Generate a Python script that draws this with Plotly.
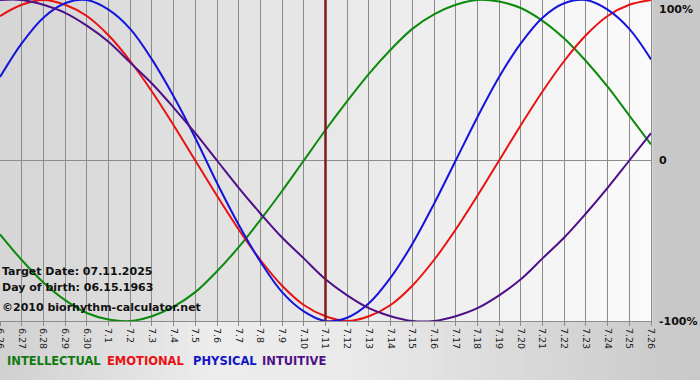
import plotly.graph_objects as go

dates = ["6.26", "6.27", "6.28", "6.29", "6.30", "7.1", "7.2", "7.3", "7.4", "7.5",
         "7.6", "7.7", "7.8", "7.9", "7.10", "7.11", "7.12", "7.13", "7.14", "7.15",
         "7.16", "7.17", "7.18", "7.19", "7.20", "7.21", "7.22", "7.23", "7.24", "7.25", "7.26"]

intellectual = [-0.46, -0.62, -0.76, -0.87, -0.95, -0.99, -1.00, -0.97, -0.91, -0.82,
                -0.69, -0.54, -0.37, -0.19, 0.00, 0.19, 0.37, 0.54, 0.69, 0.82,
                0.91, 0.97, 1.00, 0.99, 0.95, 0.87, 0.76, 0.62, 0.46, 0.28, 0.10]
emotional = [0.90, 0.97, 1.00, 0.97, 0.90, 0.78, 0.62, 0.43, 0.22, 0.00,
             -0.22, -0.43, -0.62, -0.78, -0.90, -0.97, -1.00, -0.97, -0.90, -0.78,
             -0.62, -0.43, -0.22, 0.00, 0.22, 0.43, 0.62, 0.78, 0.90, 0.97, 1.00]
physical = [0.52, 0.73, 0.89, 0.98, 1.00, 0.94, 0.82, 0.63, 0.40, 0.14,
            -0.14, -0.40, -0.63, -0.82, -0.94, -1.00, -0.98, -0.89, -0.73, -0.52,
            -0.27, 0.00, 0.27, 0.52, 0.73, 0.89, 0.98, 1.00, 0.94, 0.82, 0.63]
intuitive = [1.00, 1.00, 0.97, 0.92, 0.84, 0.74, 0.61, 0.48, 0.33, 0.17,
             0.00, -0.17, -0.33, -0.48, -0.61, -0.74, -0.84, -0.92, -0.97, -1.00,
             -1.00, -0.97, -0.92, -0.84, -0.74, -0.61, -0.48, -0.33, -0.17, 0.00, 0.17]

target_date = "7.11"
series_names = ["INTELLECTUAL", "EMOTIONAL", "PHYSICAL", "INTUITIVE"]
series_colors = ["#0c8a0c", "#e81212", "#1414dc", "#4e1088"]
legend_colors = ["#117a11", "#e81212", "#1414c8", "#4e1088"]
y_labels = ["100%", "0", "-100%"]
y_values = [1, 0, -1]
info_lines = ["Target Date: 07.11.2025", "Day of birth: 06.15.1963", "\u00a92010 biorhythm-calculator.net"]

fig = go.Figure()
for name, vals, col in zip(series_names, [intellectual, emotional, physical, intuitive], series_colors):
    fig.add_trace(go.Scatter(x=dates, y=vals, mode="lines", name=name,
                             line=dict(color=col, width=2, shape="spline", smoothing=1.0),
                             showlegend=False, cliponaxis=False, hoverinfo="skip"))

def lerp(c1, c2, t):
    return tuple(round(a + (b - a) * t) for a, b in zip(c1, c2))

shapes = []
# plot area gradient
n = 50
for i in range(n):
    t = i / (n - 1)
    c = lerp((214, 214, 214), (250, 250, 250), t)
    shapes.append(dict(type="rect", xref="paper", yref="paper", x0=i / n, x1=(i + 1) / n + 0.002,
                       y0=0, y1=1, fillcolor="rgb(%d,%d,%d)" % c, line=dict(width=0), layer="below"))
# bottom outer gradient
stops = [(0.0, (208, 208, 208)), (0.3, (236, 236, 236)), (0.5, (234, 234, 234)), (1.0, (200, 200, 200))]
m = 60
for i in range(m):
    t = (i + 0.5) / m
    for (a, ca), (b, cb) in zip(stops[:-1], stops[1:]):
        if a <= t <= b:
            c = lerp(ca, cb, (t - a) / (b - a))
    x0 = i / m * (700 / 651)
    x1 = (i + 1) / m * (700 / 651) + 0.002
    shapes.append(dict(type="rect", xref="paper", yref="paper", x0=x0, x1=x1,
                       y0=-59 / 321, y1=0, fillcolor="rgb(%d,%d,%d)" % c, line=dict(width=0), layer="below"))

fig.update_layout(shapes=shapes)

fig.add_vline(x=dates.index(target_date), line=dict(color="#7e1c1c", width=2.5))

annotations = []
for lab, v in zip(y_labels, y_values):
    annotations.append(dict(xref="paper", yref="y", x=1, y=v, text="<b>%s</b>" % lab,
                            showarrow=False, xanchor="left", xshift=6,
                            yshift=-1 if v == 1 else 0,
                            yanchor="top" if v == 1 else "middle",
                            font=dict(family="DejaVu Sans", size=11, color="#111111")))
info_y = [271, 287, 307]
for txt, py in zip(info_lines, info_y):
    annotations.append(dict(xref="paper", yref="paper", x=0, y=(321 - py) / 321, text="<b>%s</b>" % txt,
                            showarrow=False, xanchor="left", yanchor="middle",
                            font=dict(family="DejaVu Sans", size=11, color="#111111")))
legend_x = [7, 107, 193, 262]
for name, col, lx in zip(series_names, legend_colors, legend_x):
    annotations.append(dict(xref="paper", yref="paper", x=(lx - 2) / 651, y=(321 - 361) / 321, text="<b>%s</b>" % name,
                            showarrow=False, xanchor="left", yanchor="middle",
                            font=dict(family="DejaVu Sans", size=11.5, color=col)))

fig.update_layout(
    width=700, height=380,
    margin=dict(l=0, r=49, t=0, b=59, autoexpand=False),
    paper_bgcolor="#c8c8c8",
    plot_bgcolor="#e6e6e6",
    annotations=annotations,
    hovermode=False,
    xaxis=dict(type="category", range=[0, len(dates) - 1], tickangle=90, automargin=False,
               showgrid=True, gridcolor="#8c8c8c", gridwidth=1,
               ticks="outside", ticklen=4, tickcolor="#8c8c8c",
               showline=True, linecolor="#8c8c8c", linewidth=1,
               tickfont=dict(family="DejaVu Sans", size=9.5, color="#222222"), zeroline=False),
    yaxis=dict(range=[-1, 1], side="right", showticklabels=False, showgrid=False, automargin=False,
               zeroline=True, zerolinecolor="#8c8c8c", zerolinewidth=1,
               showline=True, linecolor="#8c8c8c", linewidth=1, fixedrange=True),
)

fig.write_html("out.html", config={"displayModeBar": False},
               post_script="document.body.style.margin='0';document.body.style.overflow='hidden';")
